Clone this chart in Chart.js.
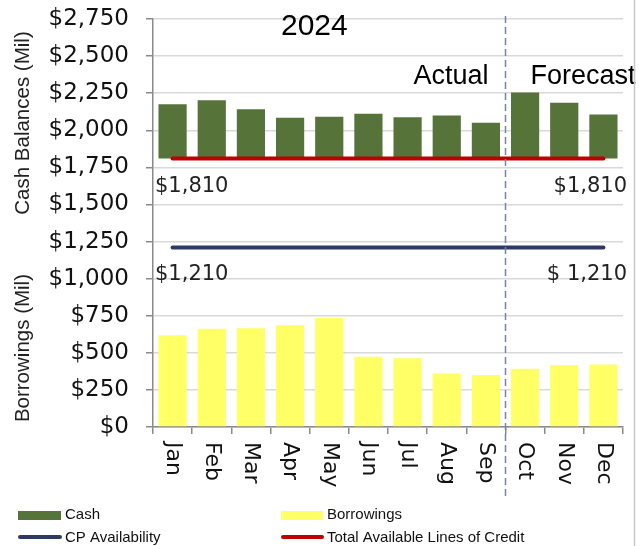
<!DOCTYPE html>
<html>
<head>
<meta charset="utf-8">
<script src="https://cdn.jsdelivr.net/npm/chart.js@4/dist/chart.umd.min.js"></script>
<style>
  html, body { margin: 0; padding: 0; background: #fff; }
  #wrap { position: relative; width: 639px; height: 546px; }
  canvas { display: block; }
</style>
</head>
<body>
<div id="wrap"><canvas id="c" width="639" height="546"></canvas></div>
<script>
// ---- data ----
const months = ['Jan','Feb','Mar','Apr','May','Jun','Jul','Aug','Sep','Oct','Nov','Dec'];
const cash = [2175, 2202, 2141, 2084, 2091, 2111, 2088, 2100, 2050, 2254, 2186, 2107];
const borrowings = [618, 663, 665, 685, 734, 474, 463, 360, 350, 393, 416, 422];
const creditLines = 1810;      // Total Available Lines of Credit
const cpAvailability = 1210;   // CP Availability
const cashBase = 1810;         // cash bars float from the credit-line level
const lastActualIndex = 8;     // Sep
const yMax = 2750;
const yStep = 250;
const yearLabel = '2024';
const periodLabels = ['Actual', 'Forecast'];
const creditLabels = ['$1,810', '$1,810'];
const cpLabels = ['$1,210', '$ 1,210'];
const axisTitles = ['Cash Balances (Mil)', 'Borrowings (Mil)'];
const legendNames = ['Cash', 'Borrowings', 'CP Availability', 'Total Available Lines of Credit'];

const COL = { cash: '#56733a', borrow: '#ffff66', cp: '#2f3a64', credit: '#c00000' };

const overlay = {
  id: 'overlay',
  afterDraw(chart) {
    const { ctx, chartArea: a, scales: { x, y } } = chart;
    const x0 = x.getPixelForValue(0), step = x.getPixelForValue(1) - x0;
    const xAt = f => x0 + f * step;
    ctx.save();

    // dashed divider actual / forecast
    const xd = xAt(lastActualIndex + 0.5);
    ctx.strokeStyle = '#7585a6';
    ctx.lineWidth = 1.5;
    ctx.setLineDash([7, 4]);
    ctx.beginPath();
    ctx.moveTo(xd, a.top - 3);
    ctx.lineTo(xd, a.bottom + 70);
    ctx.stroke();
    ctx.setLineDash([]);

    // x labels rotated 90deg clockwise
    ctx.fillStyle = '#111';
    ctx.font = '22px "DejaVu Sans"';
    ctx.textAlign = 'left';
    ctx.textBaseline = 'middle';
    months.forEach((m, i) => {
      ctx.save();
      ctx.translate(x.getPixelForValue(i), a.bottom + 15);
      ctx.rotate(Math.PI / 2);
      ctx.fillText(m, 0, 0);
      ctx.restore();
    });

    // value labels
    ctx.font = '21px "DejaVu Sans"';
    ctx.fillStyle = '#222';
    ctx.textBaseline = 'middle';
    const yc = y.getPixelForValue(creditLines) + 28;
    const yp = y.getPixelForValue(cpAvailability) + 27;
    ctx.textAlign = 'left';
    ctx.fillText(creditLabels[0], a.left + 2, yc);
    ctx.fillText(cpLabels[0], a.left + 2, yp);
    ctx.textAlign = 'right';
    ctx.fillText(creditLabels[1], a.right + 4, yc);
    ctx.fillText(cpLabels[1], a.right + 4, yp);

    // year and period labels
    ctx.fillStyle = '#000';
    ctx.textAlign = 'center';
    ctx.font = '30px "Liberation Sans"';
    ctx.fillText(yearLabel, xAt(3.62), y.getPixelForValue(2700));
    ctx.font = '27px "Liberation Sans"';
    ctx.textAlign = 'right';
    ctx.fillText(periodLabels[0], xd - 17, y.getPixelForValue(2359));
    ctx.textAlign = 'left';
    ctx.fillText(periodLabels[1], xd + 25, y.getPixelForValue(2359));

    // y axis titles
    ctx.fillStyle = '#222';
    ctx.font = '20.5px "Liberation Sans"';
    ctx.textAlign = 'center';
    [[axisTitles[0], 2049], [axisTitles[1], 532]].forEach(([t, v]) => {
      ctx.save();
      ctx.translate(23, y.getPixelForValue(v));
      ctx.rotate(-Math.PI / 2);
      ctx.fillText(t, 0, 0);
      ctx.restore();
    });

    // legend
    ctx.font = '15px "Liberation Sans"';
    ctx.textAlign = 'left';
    ctx.fillStyle = COL.cash;   ctx.fillRect(18, 511, 43, 9);
    ctx.fillStyle = COL.borrow; ctx.fillRect(281, 511, 42, 9);
    ctx.lineCap = 'round';
    ctx.lineWidth = 4;
    ctx.strokeStyle = COL.cp;
    ctx.beginPath(); ctx.moveTo(20, 537); ctx.lineTo(60, 537); ctx.stroke();
    ctx.strokeStyle = COL.credit;
    ctx.beginPath(); ctx.moveTo(283, 537); ctx.lineTo(322, 537); ctx.stroke();
    ctx.fillStyle = '#111';
    ctx.fillText(legendNames[0], 65, 515);
    ctx.fillText(legendNames[1], 327, 515);
    ctx.fillText(legendNames[2], 65, 538);
    ctx.fillText(legendNames[3], 327, 538);

    // right frame line
    ctx.strokeStyle = '#c8c8c8';
    ctx.lineWidth = 1.5;
    ctx.beginPath(); ctx.moveTo(634.5, 0); ctx.lineTo(634.5, 546); ctx.stroke();
    ctx.restore();
  }
};

new Chart(document.getElementById('c'), {
  type: 'bar',
  data: {
    labels: months,
    datasets: [
      { type: 'line', label: legendNames[3], data: months.map(() => creditLines),
        borderColor: COL.credit, borderWidth: 4, pointRadius: 0, borderCapStyle: 'round', order: 0 },
      { type: 'line', label: legendNames[2], data: months.map(() => cpAvailability),
        borderColor: COL.cp, borderWidth: 4, pointRadius: 0, borderCapStyle: 'round', order: 0 },
      { label: legendNames[0], data: cash.map(v => [cashBase, v]), backgroundColor: COL.cash,
        grouped: false, categoryPercentage: 0.72, barPercentage: 1, order: 1 },
      { label: legendNames[1], data: borrowings, backgroundColor: COL.borrow,
        grouped: false, categoryPercentage: 0.72, barPercentage: 1, order: 1 }
    ]
  },
  options: {
    responsive: false,
    animation: false,
    layout: { padding: { top: 19, right: 16, left: 0, bottom: 0 } },
    plugins: { legend: { display: false }, tooltip: { enabled: false } },
    scales: {
      x: {
        offset: true,
        grid: { offset: true, drawOnChartArea: false, tickLength: 7, tickColor: '#8a8a8a', lineWidth: 1.5 },
        border: { color: '#8a8a8a', width: 1.5 },
        ticks: { display: false },
        afterFit(s) { s.height = 119; s.paddingLeft = 0; s.paddingRight = 0; }
      },
      y: {
        min: 0, max: yMax,
        ticks: {
          stepSize: yStep,
          padding: 17,
          color: '#111',
          font: { family: 'DejaVu Sans', size: 23 },
          callback: v => '$' + Number(v).toLocaleString('en-US')
        },
        grid: { color: '#d9d9d9', lineWidth: 1.5, tickLength: 7, tickColor: '#8a8a8a' },
        border: { color: '#8a8a8a', width: 1.5 },
        afterFit(s) { s.width = 153; s.paddingTop = 0; s.paddingBottom = 0; }
      }
    }
  },
  plugins: [overlay]
});
</script>
</body>
</html>
